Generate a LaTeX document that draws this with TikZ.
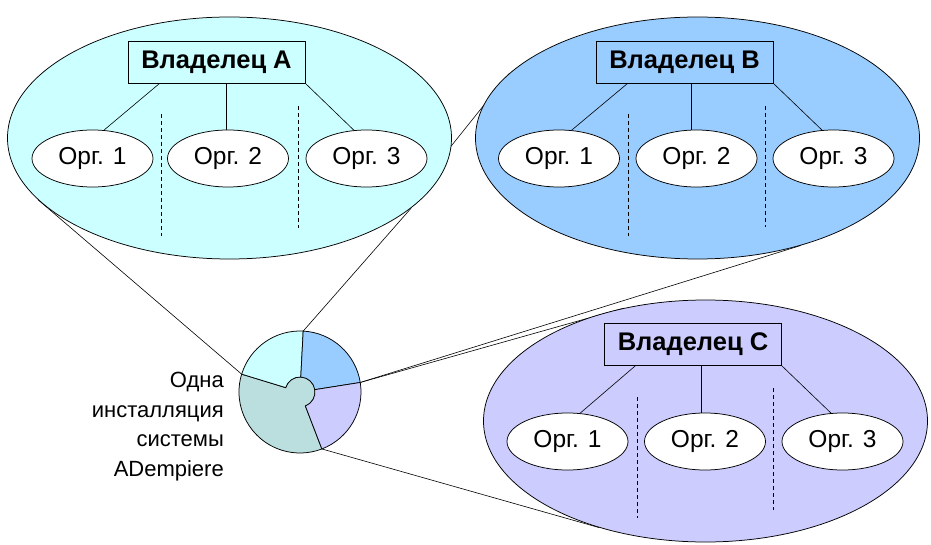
\documentclass[tikz,border=0pt]{standalone}
\usepackage{fontspec}
\setmainfont{Liberation Sans}
\usetikzlibrary{shapes.geometric,calc}
\pgfdeclarelayer{bg}
\pgfsetlayers{bg,main}
\definecolor{cA}{HTML}{CCFFFF}
\definecolor{cB}{HTML}{99CCFF}
\definecolor{cC}{HTML}{CCCCFF}
\definecolor{cP}{HTML}{BBDEDE}
\begin{document}
\begin{tikzpicture}[x=1pt,y=-1pt, line width=0.75pt,
  bigell/.style={ellipse, draw, minimum width=444pt, minimum height=242pt, inner sep=0pt},
  owner/.style={rectangle, draw, minimum width=177pt, minimum height=42pt, inner sep=0pt, font=\fontsize{25.5}{28}\selectfont\bfseries},
  org/.style={ellipse, draw, fill=white, minimum width=121pt, minimum height=57pt, inner sep=0pt, font=\fontsize{24.5}{28}\selectfont},
  sep/.style={dash pattern=on 4pt off 3pt, line width=0.75pt},
  link/.style={line width=0.6pt},
  callout/.style={line width=0.6pt}]
\useasboundingbox (0,0) rectangle (931,545);

% big ellipses
\node[bigell, fill=cA] (A) at (229.5,138) {};
\node[bigell, fill=cB] (B) at (697.5,138) {};
\node[bigell, fill=cC] (C) at (705.5,421) {};

% owners
\node[owner] (bA) at (216.5,62) {Владелец A};
\node[owner] (bB) at (684.5,62) {Владелец B};
\node[owner] (bC) at (693,344.5) {Владелец C};

% orgs
\node[org] (oA1) at (92.5,158.5) {Орг. 1};
\node[org] (oA2) at (228,158.5) {Орг. 2};
\node[org] (oA3) at (366.5,158.5) {Орг. 3};
\node[org] (oB1) at (559,158.5) {Орг. 1};
\node[org] (oB2) at (696.5,158.5) {Орг. 2};
\node[org] (oB3) at (833.5,158.5) {Орг. 3};
\node[org] (oC1) at (567.5,441.5) {Орг. 1};
\node[org] (oC2) at (705,441.5) {Орг. 2};
\node[org] (oC3) at (842.5,441.5) {Орг. 3};

% owner -> org links
\coordinate (lA) at ($(bA.south west)!0.18!(bA.south east)$);
\coordinate (mA) at ($(bA.south west)!0.553!(bA.south east)$);
\coordinate (lB) at ($(bB.south west)!0.18!(bB.south east)$);
\coordinate (mB) at ($(bB.south west)!0.54!(bB.south east)$);
\coordinate (lC) at ($(bC.south west)!0.175!(bC.south east)$);
\coordinate (mC) at ($(bC.south west)!0.545!(bC.south east)$);
\draw[link] (lA) -- (oA1.68);
\draw[link] (mA) -- (mA |- oA2.north);
\draw[link] (bA.south east) -- (oA3.114);
\draw[link] (lB) -- (oB1.66);
\draw[link] (mB) -- (mB |- oB2.north);
\draw[link] (bB.south east) -- (oB3.112);
\draw[link] (lC) -- (oC1.66);
\draw[link] (mC) -- (mC |- oC2.north);
\draw[link] (bC.south east) -- (oC3.112);

% dashed separators
\draw[sep] ([shift={(-68.5,-24)}]A.center) -- ++(0,122);
\draw[sep] ([shift={(68.5,-32)}]A.center) -- ++(0,122);
\draw[sep] ([shift={(-69.5,-24)}]B.center) -- ++(0,122);
\draw[sep] ([shift={(67.5,-32)}]B.center) -- ++(0,121);
\draw[sep] ([shift={(-68.5,-24)}]C.center) -- ++(0,121);
\draw[sep] ([shift={(67.5,-33)}]C.center) -- ++(0,122);

% pie
\begin{scope}[shift={(300,392)}, yscale=-1]
  \filldraw[fill=cP] (163:61) arc[start angle=163, end angle=291, radius=61]
     -- (291:15) arc[start angle=291, end angle=523, radius=15] -- cycle;
  \filldraw[fill=cA] (87:15) -- (87:61) arc[start angle=87, end angle=163, radius=61]
     -- (163:15) arc[start angle=163, end angle=87, radius=15] -- cycle;
  \filldraw[fill=cB] (9:15) -- (9:61) arc[start angle=9, end angle=87, radius=61]
     -- (87:15) arc[start angle=87, end angle=9, radius=15] -- cycle;
  \filldraw[fill=cC] (-69:15) -- (-69:61) arc[start angle=-69, end angle=9, radius=61]
     -- (9:15) arc[start angle=9, end angle=-69, radius=15] -- cycle;
  \coordinate (p163) at (163:61);
  \coordinate (p87) at (87:61);
  \coordinate (p9) at (9:61);
  \coordinate (p291) at (-69:61);
\end{scope}

% callout lines (behind)
\coordinate (hB) at ($(B.161.7)!0.4!(p87)$);
\begin{pgfonlayer}{bg}
  \draw[callout] (A.198.75) -- (p163);
  \draw[callout] (A.339.1) -- (p87);
  \draw[callout] (B.161.7) -- (hB);
  \draw[callout] (B.314.9) -- (p9);
  \draw[callout] (C.126.1) -- (p9);
  \draw[callout] (C.225.1) -- (p291);
\end{pgfonlayer}

% label
\node[anchor=north east, align=right, inner sep=0pt, font=\fontsize{22}{29.5}\selectfont] (lbl) at (224,372)
  {Одна\\инсталляция\\системы\\ADempiere};
\end{tikzpicture}
\end{document}
